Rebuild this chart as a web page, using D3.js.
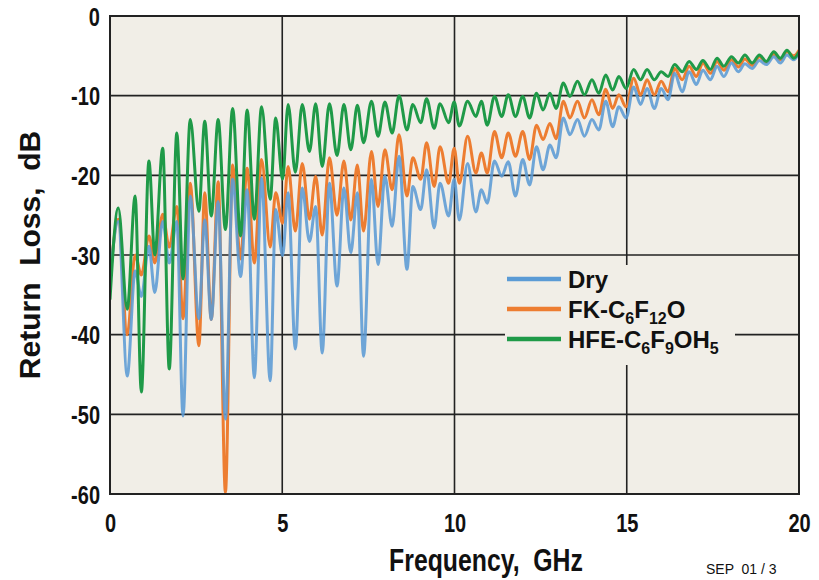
<!DOCTYPE html>
<html>
<head>
<meta charset="utf-8">
<script src="https://cdn.jsdelivr.net/npm/d3@7"></script>
<style>
  body { margin: 0; background: #ffffff; }
  text { font-family: "Liberation Sans", Arial, sans-serif; font-weight: bold; fill: #111; white-space: pre; }
</style>
</head>
<body>
<div id="main"></div>
<script>
const ctx = {
    w: 819,
    h: 580
};
const margin = { top: 16, right: 20, bottom: 86, left: 110 };

// shared extremum frequencies (GHz): start, peak, trough, peak, ...
const freqGHz = [
    0.00, 0.24, 0.50, 0.73, 0.91, 1.13, 1.30, 1.53, 1.72, 1.94,
    2.12, 2.33, 2.58, 2.75, 2.94, 3.14, 3.35, 3.56, 3.79, 3.98,
    4.19, 4.40, 4.65, 4.81, 5.01, 5.17, 5.38, 5.58, 5.79, 5.97,
    6.16, 6.37, 6.59, 6.79, 6.99, 7.18, 7.36, 7.59, 7.78, 7.98,
    8.19, 8.39, 8.62, 8.79, 9.02, 9.19, 9.41, 9.58, 9.83, 9.99,
    10.14, 10.38, 10.62, 10.78, 10.95, 11.16, 11.37, 11.56, 11.77, 11.98,
    12.18, 12.38, 12.57, 12.77, 12.95, 13.16, 13.35, 13.57, 13.77, 13.99,
    14.19, 14.39, 14.59, 14.77, 14.98, 15.20, 15.40, 15.59, 15.80, 16.00,
    16.20, 16.39, 16.61, 16.81, 17.02, 17.21, 17.43, 17.62, 17.82, 18.04,
    18.24, 18.43, 18.64, 18.85, 19.05, 19.27, 19.46, 19.65, 19.85, 20.00
];

const dryDb = [
    -33.0, -25.8, -45.2, -32.0, -35.2, -28.9, -34.7, -25.8, -31.0, -25.8,
    -50.2, -22.6, -38.0, -25.6, -38.1, -23.3, -50.6, -20.5, -32.7, -21.8,
    -45.4, -20.3, -45.8, -24.3, -30.1, -22.2, -41.8, -21.6, -28.3, -23.9,
    -42.3, -21.0, -33.9, -21.6, -29.7, -22.2, -42.7, -20.5, -31.2, -20.1,
    -26.4, -17.6, -31.8, -21.4, -24.3, -19.3, -26.6, -21.0, -25.1, -20.5,
    -25.6, -18.5, -24.6, -21.8, -23.5, -18.2, -20.1, -18.3, -22.6, -18.0,
    -21.2, -16.4, -19.3, -16.2, -17.8, -12.8, -14.9, -13.0, -15.1, -13.0,
    -14.3, -10.7, -13.9, -11.4, -12.8, -8.9, -11.1, -9.1, -11.6, -9.1,
    -10.5, -7.2, -9.5, -7.0, -8.6, -6.8, -8.0, -6.3, -7.6, -5.9,
    -7.0, -6.0, -6.6, -5.6, -6.1, -5.1, -5.9, -4.9, -5.5, -4.6
];

const fkDb = [
    -33.0, -25.5, -40.0, -30.0, -32.5, -27.6, -31.0, -24.9, -29.0, -23.9,
    -38.0, -21.0, -41.4, -22.2, -38.1, -20.8, -59.8, -18.7, -30.5, -19.1,
    -31.0, -18.0, -29.0, -22.2, -26.0, -18.9, -27.0, -18.5, -25.5, -20.1,
    -27.5, -17.8, -25.0, -18.2, -25.6, -18.7, -27.0, -17.0, -23.9, -16.8,
    -21.8, -14.9, -22.6, -17.8, -20.5, -15.9, -21.4, -16.4, -21.0, -16.6,
    -21.0, -15.1, -19.7, -17.2, -19.7, -14.5, -17.8, -14.7, -17.6, -14.5,
    -18.0, -13.7, -15.5, -13.5, -15.4, -10.7, -12.8, -10.7, -12.8, -10.5,
    -12.4, -9.2, -11.6, -9.9, -11.4, -7.8, -9.9, -8.0, -9.9, -8.2,
    -9.5, -6.6, -8.0, -6.3, -7.6, -5.9, -7.2, -5.7, -6.8, -5.5,
    -6.4, -5.4, -6.2, -5.1, -5.8, -4.8, -5.5, -4.5, -5.0, -4.3
];

const hfeDb = [
    -35.6, -24.1, -36.8, -22.6, -47.2, -18.2, -30.0, -16.6, -44.3, -14.7,
    -33.0, -13.0, -24.5, -13.2, -25.1, -13.0, -26.8, -11.6, -27.6, -11.8,
    -25.5, -11.4, -23.0, -12.8, -20.5, -11.1, -19.6, -11.1, -17.0, -11.0,
    -18.9, -11.0, -17.5, -11.1, -16.8, -11.2, -15.9, -10.7, -15.1, -10.8,
    -14.7, -10.0, -14.3, -11.1, -13.4, -10.4, -14.1, -11.0, -13.4, -10.8,
    -13.8, -10.7, -12.6, -10.7, -13.7, -10.1, -12.6, -9.9, -12.6, -10.1,
    -12.8, -9.7, -11.8, -9.7, -11.6, -8.4, -10.1, -8.2, -9.9, -8.0,
    -9.7, -7.4, -9.3, -7.6, -9.1, -6.7, -8.0, -6.7, -8.0, -7.0,
    -7.6, -6.1, -7.0, -5.7, -6.7, -5.6, -6.7, -5.3, -6.3, -5.1,
    -5.9, -4.9, -5.9, -4.9, -5.7, -4.5, -5.3, -4.3, -5.3, -4.5
];

const xTicks = [0, 5, 10, 15, 20];
const yTicks = [0, -10, -20, -30, -40, -50, -60];

const seriesNames = ["Dry", "FK", "HFE"];
const seriesColors = { Dry: "#5b9bd5", FK: "#ed7d31", HFE: "#1f9a48" };

const series = [
    { name: "FK", values: fkDb },
    { name: "Dry", values: dryDb },
    { name: "HFE", values: hfeDb }
];

let x, y;

function createLegend(g) {
    const legendX = 397;   // relative to plot group
    const legendY = 263;
    const legendSpacing = 30;

    // box hides the grid lines under the legend
    g.append("rect")
        .attr("x", legendX - 2)
        .attr("y", legendY - 14)
        .attr("width", 230)
        .attr("height", 100)
        .attr("fill", "#f1eee7");

    const legend = g.selectAll(".legend")
        .data(seriesNames)
        .enter().append("g")
        .attr("class", "legend")
        .attr("transform", (d, i) => `translate(${legendX},${legendY + i * legendSpacing})`);

    legend.append("line")
        .attr("x1", 0).attr("x2", 54)
        .attr("y1", 0).attr("y2", 0)
        .attr("stroke", d => seriesColors[d])
        .attr("stroke-width", 4.5);

    const txt = legend.append("text")
        .attr("x", 61)
        .attr("y", 9)
        .style("font-size", "24px");

    // labels with chemical subscripts
    const parts = {
        Dry: [["Dry", false]],
        FK: [["FK-C", false], ["6", true], ["F", false], ["12", true], ["O", false]],
        HFE: [["HFE-C", false], ["6", true], ["F", false], ["9", true], ["OH", false], ["5", true]]
    };
    txt.each(function(d) {
        const t = d3.select(this);
        let sub = false;
        parts[d].forEach(p => {
            const s = t.append("tspan").text(p[0]);
            if (p[1] && !sub) { s.attr("dy", 6).style("font-size", "16px"); sub = true; }
            else if (p[1]) { s.style("font-size", "16px"); }
            else if (sub) { s.attr("dy", -6); sub = false; }
        });
    });
}

function createViz() {
    const svg = d3.select("#main").append("svg")
        .attr("width", ctx.w)
        .attr("height", ctx.h);

    const pw = ctx.w - margin.left - margin.right;
    const ph = ctx.h - margin.top - margin.bottom;

    x = d3.scaleLinear().domain([0, 20]).range([0, pw]);
    y = d3.scaleLinear().domain([-60, 0]).range([ph, 0]);

    const g = svg.append("g")
        .attr("transform", `translate(${margin.left},${margin.top})`);

    g.append("rect")
        .attr("width", pw).attr("height", ph)
        .attr("fill", "#f1eee7");

    // grid
    g.selectAll(".vgrid").data(xTicks.slice(1, -1)).enter().append("line")
        .attr("x1", d => x(d)).attr("x2", d => x(d))
        .attr("y1", 0).attr("y2", ph)
        .attr("stroke", "#222").attr("stroke-width", 1.6);
    g.selectAll(".hgrid").data(yTicks.slice(1, -1)).enter().append("line")
        .attr("x1", 0).attr("x2", pw)
        .attr("y1", d => y(d)).attr("y2", d => y(d))
        .attr("stroke", "#222").attr("stroke-width", 1.6);

    createLegend(g);

    g.append("clipPath").attr("id", "clip")
        .append("rect").attr("width", pw).attr("height", ph);

    const line = d3.line()
        .x((d, i) => x(freqGHz[i]))
        .y(d => y(d))
        .curve(d3.curveMonotoneX);

    g.append("g").attr("clip-path", "url(#clip)")
        .selectAll("path").data(series).enter().append("path")
        .attr("d", d => line(d.values))
        .attr("fill", "none")
        .attr("stroke", d => seriesColors[d.name])
        .attr("stroke-width", 3)
        .attr("stroke-linejoin", "round")
        .attr("opacity", d => d.name === "Dry" ? 0.88 : 1);

    // frame
    g.append("rect")
        .attr("width", pw).attr("height", ph)
        .attr("fill", "none")
        .attr("stroke", "#222").attr("stroke-width", 2);

    // axes (labels are tall and narrow in the original)
    const xAxis = g.append("g")
        .attr("transform", `translate(0,${ph})`)
        .call(d3.axisBottom(x).tickValues(xTicks).tickSize(0).tickPadding(0).tickFormat(d3.format("d")));
    xAxis.selectAll(".tick text")
        .attr("dy", null)
        .attr("y", 0)
        .attr("transform", "translate(0,38) scale(0.8,1)");

    const yAxis = g.append("g")
        .call(d3.axisLeft(y).tickValues(yTicks).tickSize(0).tickPadding(0).tickFormat(d => d === 0 ? "0" : "-" + Math.abs(d)));
    yAxis.selectAll(".tick text")
        .attr("x", 0)
        .attr("dy", null)
        .attr("y", 0)
        .attr("transform", "translate(-10,9) scale(0.8,1)");

    [xAxis, yAxis].forEach(a => {
        a.select(".domain").remove();
        a.selectAll("text")
            .style("font-size", "25px")
            .style("font-family", "\"Liberation Sans\", Arial, sans-serif")
            .style("font-weight", "bold")
            .attr("fill", "#111");
    });

    svg.append("text")
        .attr("transform", "translate(486,571) scale(0.8,1)")
        .attr("text-anchor", "middle")
        .style("font-size", "31px")
        .text("Frequency,  GHz");

    svg.append("text")
        .attr("transform", `translate(40,${margin.top + ph / 2}) rotate(-90)`)
        .attr("text-anchor", "middle")
        .style("font-size", "30px")
        .text("Return  Loss,  dB");

    svg.append("text")
        .attr("x", 706)
        .attr("y", 574)
        .style("font-size", "14px")
        .style("font-weight", "normal")
        .text("SEP  01 / 3");
}

createViz();
</script>
</body>
</html>
